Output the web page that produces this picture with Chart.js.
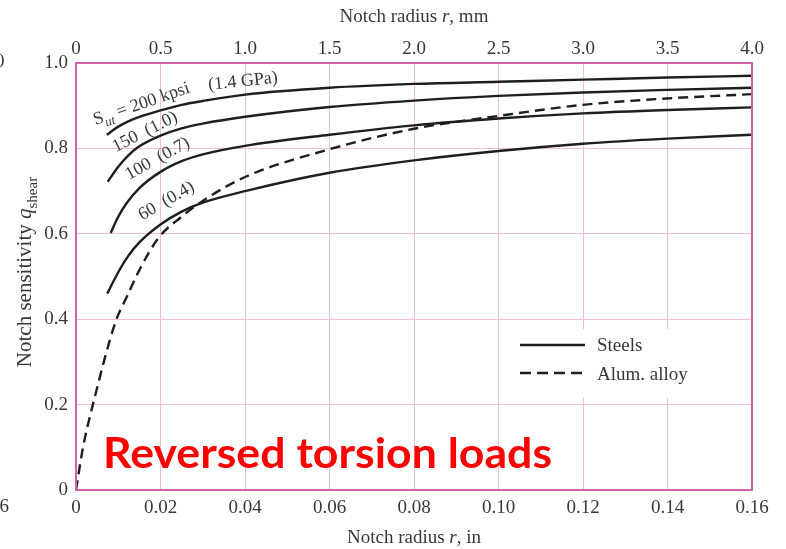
<!DOCTYPE html>
<html><head><meta charset="utf-8">
<script src="https://cdn.jsdelivr.net/npm/chart.js@4.4.0/dist/chart.umd.min.js"></script>
<style>html,body{margin:0;padding:0;background:#fff;}#wrap{width:786px;height:549px;position:relative}</style>
</head><body><div id="wrap"><canvas id="c" width="786" height="549"></canvas></div>
<script>
// ---- data (notch radius r in inches, notch sensitivity q_shear) ----
const r200 = [0.0073, 0.010, 0.0125, 0.015, 0.020, 0.025, 0.030, 0.040, 0.060, 0.080, 0.100, 0.120, 0.140, 0.160];
const q200 = [0.832, 0.851, 0.864, 0.874, 0.889, 0.902, 0.911, 0.926, 0.942, 0.951, 0.956, 0.961, 0.966, 0.970];
const r150 = [0.0075, 0.010, 0.0125, 0.015, 0.020, 0.025, 0.030, 0.040, 0.060, 0.080, 0.100, 0.120, 0.140, 0.160];
const q150 = [0.722, 0.757, 0.785, 0.805, 0.830, 0.847, 0.858, 0.874, 0.897, 0.912, 0.923, 0.931, 0.937, 0.942];
const r100 = [0.0082, 0.010, 0.012, 0.015, 0.020, 0.025, 0.030, 0.040, 0.060, 0.080, 0.100, 0.120, 0.140, 0.160];
const q100 = [0.602, 0.640, 0.672, 0.707, 0.745, 0.770, 0.786, 0.806, 0.832, 0.854, 0.870, 0.882, 0.890, 0.896];
const r60  = [0.0074, 0.010, 0.0125, 0.015, 0.020, 0.025, 0.030, 0.040, 0.060, 0.080, 0.100, 0.120, 0.140, 0.160];
const q60  = [0.460, 0.510, 0.550, 0.580, 0.622, 0.652, 0.673, 0.700, 0.743, 0.772, 0.794, 0.811, 0.823, 0.832];
const rAl  = [0, 0.0017, 0.0040, 0.0094, 0.012, 0.015, 0.0195, 0.025, 0.030, 0.040, 0.060, 0.080, 0.100, 0.120, 0.140, 0.160];
const qAl  = [0, 0.102, 0.200, 0.395, 0.452, 0.515, 0.590, 0.640, 0.677, 0.733, 0.798, 0.846, 0.876, 0.902, 0.917, 0.927];

const xTicksIn = [0, 0.02, 0.04, 0.06, 0.08, 0.10, 0.12, 0.14, 0.16];
const xTicksMm = [0, 0.5, 1.0, 1.5, 2.0, 2.5, 3.0, 3.5, 4.0];
const yTicks   = [0, 0.2, 0.4, 0.6, 0.8, 1.0];

const seriesNames = ['200 kpsi', '150 kpsi', '100 kpsi', '60 kpsi', 'Alum. alloy'];
// curve labels: text parts, anchor (r, q) in data units, rotation in degrees
const curveLabels = [
  {parts: [['S',''], ['ut','sub'], [' = 200 kpsi','']], r: 0.00459, q: 0.8547, a: -19},
  {parts: [['(1.4 GPa)','']], r: 0.0314, q: 0.9373, a: -6},
  {parts: [['150  (1.0)','']], r: 0.0094, q: 0.7909, a: -27},
  {parts: [['100  (0.7)','']], r: 0.01257, q: 0.7259, a: -29},
  {parts: [['60  (0.4)','']], r: 0.01567, q: 0.6311, a: -30}
];

const SERIF = '"Liberation Serif", "DejaVu Serif", serif';
const TXT = '#383838';
const GRID = '#f0bfd7';
const FRAME = '#cf62a8';
const LINE = '#1e1e1e';

function pts(r, q) { return r.map((x, i) => ({x: x, y: q[i]})); }
function ds(label, r, q, dash) {
  return {label: label, data: pts(r, q), borderColor: LINE, borderWidth: 2.4,
          borderDash: dash || [], pointRadius: 0, fill: false,
          cubicInterpolationMode: 'monotone', borderCapStyle: 'butt'};
}

function drawParts(ctx, parts, size) {
  let x = 0;
  for (const [t, st] of parts) {
    if (st === 'sub') {
      ctx.font = 'italic ' + Math.round(size * 0.72) + 'px ' + SERIF;
      ctx.fillText(t, x, size * 0.28);
    } else if (st === 'it') {
      ctx.font = 'italic ' + size + 'px ' + SERIF;
      ctx.fillText(t, x, 0);
    } else if (st === 'subn') {
      ctx.font = Math.round(size * 0.72) + 'px ' + SERIF;
      ctx.fillText(t, x, size * 0.28);
    } else {
      ctx.font = size + 'px ' + SERIF;
      ctx.fillText(t, x, 0);
    }
    x += ctx.measureText(t).width;
  }
  return x;
}
function partsWidth(ctx, parts, size) {
  let w = 0;
  for (const [t, st] of parts) {
    const s = (st === 'sub' || st === 'subn') ? Math.round(size * 0.72) : size;
    ctx.font = (st === 'it' || st === 'sub' ? 'italic ' : '') + s + 'px ' + SERIF;
    w += ctx.measureText(t).width;
  }
  return w;
}

const deco = {
  id: 'deco',
  beforeDatasetsDraw(chart) {
    const ctx = chart.ctx;
    ctx.save();
    ctx.fillStyle = '#fff';
    ctx.fillRect(505, 329, 215, 69);
    ctx.restore();
  },
  afterDatasetsDraw(chart) {
    const ctx = chart.ctx, ca = chart.chartArea;
    const xs = chart.scales.x, ys = chart.scales.y;
    ctx.save();
    // frame
    ctx.strokeStyle = FRAME; ctx.lineWidth = 2;
    ctx.strokeRect(ca.left, ca.top, ca.right - ca.left, ca.bottom - ca.top);
    // curve labels
    ctx.fillStyle = TXT; ctx.textBaseline = 'alphabetic'; ctx.textAlign = 'left';
    for (const L of curveLabels) {
      ctx.save();
      ctx.translate(xs.getPixelForValue(L.r), ys.getPixelForValue(L.q));
      ctx.rotate(L.a * Math.PI / 180);
      drawParts(ctx, L.parts, 18);
      ctx.restore();
    }
    // legend
    ctx.strokeStyle = LINE; ctx.lineWidth = 2.4;
    ctx.beginPath(); ctx.moveTo(520, 345); ctx.lineTo(585, 345); ctx.stroke();
    ctx.setLineDash([11, 6]);
    ctx.beginPath(); ctx.moveTo(520, 373); ctx.lineTo(582, 373); ctx.stroke();
    ctx.setLineDash([]);
    ctx.fillStyle = TXT; ctx.font = '19px ' + SERIF; ctx.textBaseline = 'middle';
    ctx.fillText('Steels', 597, 346);
    ctx.fillText('Alum. alloy', 597, 375);
    // red annotation
    ctx.fillStyle = '#ff0000'; ctx.textBaseline = 'alphabetic';
    ctx.font = 'bold 42px Lato, "Open Sans", sans-serif';
    const txt = 'Reversed torsion loads';
    const w = ctx.measureText(txt).width;
    ctx.save();
    ctx.translate(103, 468);
    ctx.scale(449 / w, 1);
    ctx.fillText(txt, 0, 0);
    ctx.restore();
    ctx.restore();
  },
  afterDraw(chart) {
    const ctx = chart.ctx, ca = chart.chartArea;
    const cx = (ca.left + ca.right) / 2;
    ctx.save();
    ctx.fillStyle = TXT; ctx.textBaseline = 'alphabetic'; ctx.textAlign = 'left';
    const top = [['Notch radius ',''], ['r','it'], [', mm','']];
    let w = partsWidth(ctx, top, 19);
    ctx.save(); ctx.translate(cx - w / 2, 22); drawParts(ctx, top, 19); ctx.restore();
    const bot = [['Notch radius ',''], ['r','it'], [', in','']];
    w = partsWidth(ctx, bot, 19);
    ctx.save(); ctx.translate(cx - w / 2, 543); drawParts(ctx, bot, 19); ctx.restore();
    const yt = [['Notch sensitivity ',''], ['q','it'], ['shear','subn']];
    w = partsWidth(ctx, yt, 21);
    ctx.save(); ctx.translate(31, 272 + w / 2); ctx.rotate(-Math.PI / 2);
    drawParts(ctx, yt, 21); ctx.restore();
    // cropped neighbour-figure remnants at the left edge
    ctx.font = '19px ' + SERIF;
    ctx.fillText('0', -5, 67);
    ctx.textAlign = 'right';
    ctx.fillText('6', 9, 512);
    ctx.restore();
  }
};

const tickFont = {family: SERIF, size: 19};
new Chart(document.getElementById('c'), {
  type: 'line',
  data: {datasets: [
    ds(seriesNames[0], r200, q200),
    ds(seriesNames[1], r150, q150),
    ds(seriesNames[2], r100, q100),
    ds(seriesNames[3], r60, q60),
    ds(seriesNames[4], rAl, qAl, [10, 6])
  ]},
  options: {
    responsive: false, animation: false,
    layout: {padding: {left: 0, right: 34, top: 0, bottom: 0}},
    plugins: {legend: {display: false}, tooltip: {enabled: false}},
    scales: {
      x: {type: 'linear', position: 'bottom', min: 0, max: 0.16,
          afterBuildTicks: s => { s.ticks = xTicksIn.map(v => ({value: v})); },
          afterFit: s => { s.height = 59; },
          ticks: {callback: v => v === 0 ? '0' : v.toFixed(2), font: tickFont, color: TXT, padding: 7, maxRotation: 0, autoSkip: false},
          grid: {color: GRID, lineWidth: 1, drawTicks: false}, border: {display: false}},
      x2: {type: 'linear', axis: 'x', position: 'top', min: 0, max: 4,
          afterBuildTicks: s => { s.ticks = xTicksMm.map(v => ({value: v})); },
          afterFit: s => { s.height = 63; },
          ticks: {callback: v => v === 0 ? '0' : v.toFixed(1), font: tickFont, color: TXT, padding: 3, maxRotation: 0, autoSkip: false},
          grid: {display: false, drawTicks: false}, border: {display: false}},
      y: {type: 'linear', min: 0, max: 1,
          afterBuildTicks: s => { s.ticks = yTicks.map(v => ({value: v})); },
          afterFit: s => { s.width = 76; },
          ticks: {callback: v => v === 0 ? '0' : v.toFixed(1), font: tickFont, color: TXT, padding: 8},
          grid: {color: GRID, lineWidth: 1, drawTicks: false}, border: {display: false}}
    }
  },
  plugins: [deco]
});
</script></body></html>
